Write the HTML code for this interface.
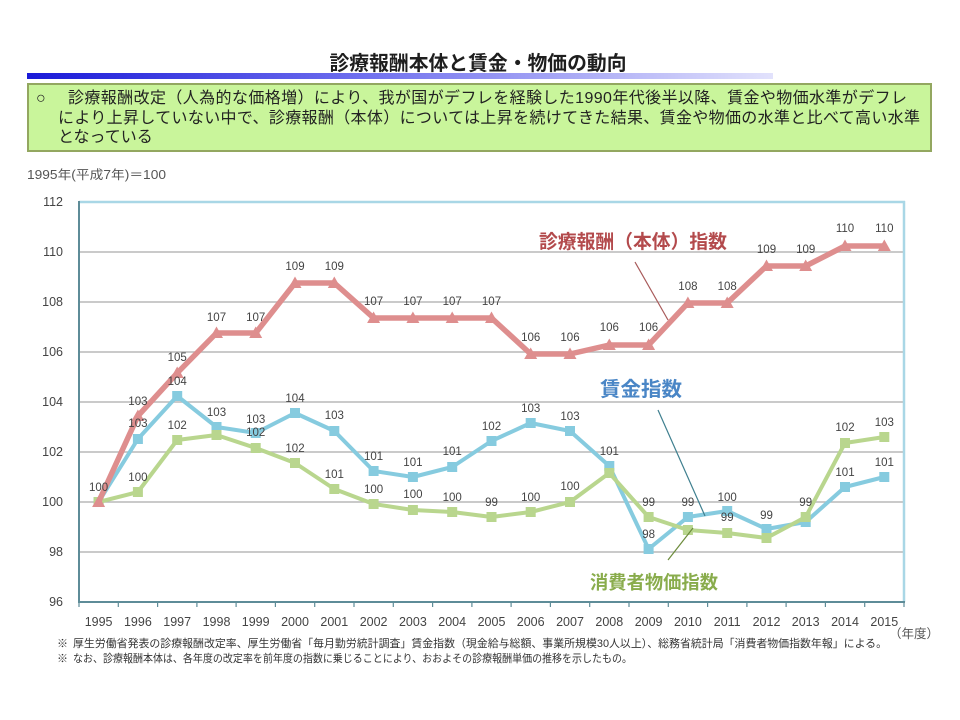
<!DOCTYPE html>
<html><head><meta charset="utf-8"><style>
html,body{margin:0;padding:0;background:#fff;}
svg{display:block;}
text{font-family:"Liberation Sans","Noto Sans CJK JP",sans-serif;}
</style></head><body>
<svg width="960" height="720" viewBox="0 0 960 720" xmlns="http://www.w3.org/2000/svg">
<defs>
<linearGradient id="bar" x1="0" x2="1" y1="0" y2="0">
<stop offset="0" stop-color="#1a1ad8"/>
<stop offset="0.45" stop-color="#6f6fee"/>
<stop offset="1" stop-color="#e2e2fc"/>
</linearGradient>
<path id="tri" d="M-6.5,5 L6.5,5 L0,-6.5 Z" fill="#de8e8e"/>
<rect id="bsq" x="-5" y="-5" width="10" height="10" fill="#86cbdf"/>
<rect id="gsq" x="-5" y="-5" width="10" height="10" fill="#b9d68e"/>
</defs>
<rect width="960" height="720" fill="#fff"/>

<!-- Title -->
<text x="478" y="70" text-anchor="middle" font-size="20" font-weight="bold" fill="#1e1e1e" textLength="297" lengthAdjust="spacingAndGlyphs">診療報酬本体と賃金・物価の動向</text>
<rect x="27" y="73" width="746" height="6" fill="url(#bar)"/>

<!-- Green box -->
<rect x="28" y="84" width="903" height="67" fill="#c9f59b" stroke="#93a760" stroke-width="2"/>
<text x="36" y="103" font-size="16" fill="#222">○</text>
<text x="68" y="103" font-size="16" fill="#222" textLength="839" lengthAdjust="spacing">診療報酬改定（人為的な価格増）により、我が国がデフレを経験した1990年代後半以降、賃金や物価水準がデフレ</text>
<text x="58" y="123" font-size="16" fill="#222" textLength="862" lengthAdjust="spacing">により上昇していない中で、診療報酬（本体）については上昇を続けてきた結果、賃金や物価の水準と比べて高い水準</text>
<text x="58" y="142" font-size="16" fill="#222">となっている</text>

<text x="27" y="179" font-size="12.5" fill="#555" textLength="139" lengthAdjust="spacingAndGlyphs">1995年(平成7年)＝100</text>

<!-- gridlines -->
<g stroke="#b8b8b8" stroke-width="1.5">
<line x1="79" y1="252" x2="904" y2="252"/>
<line x1="79" y1="302" x2="904" y2="302"/>
<line x1="79" y1="352" x2="904" y2="352"/>
<line x1="79" y1="402" x2="904" y2="402"/>
<line x1="79" y1="452" x2="904" y2="452"/>
<line x1="79" y1="502" x2="904" y2="502"/>
<line x1="79" y1="552" x2="904" y2="552"/>
</g>
<!-- frame -->
<line x1="79" y1="202" x2="905" y2="202" stroke="#a9d7e6" stroke-width="2.5"/>
<line x1="904" y1="201" x2="904" y2="602" stroke="#a9d7e6" stroke-width="2.5"/>
<line x1="79" y1="201" x2="79" y2="603" stroke="#5e8c98" stroke-width="2"/>
<line x1="78" y1="602" x2="905" y2="602" stroke="#5e8c98" stroke-width="2"/>
<g stroke="#5e8c98" stroke-width="1.2">
<line x1="79" y1="602" x2="79" y2="607"/><line x1="118.3" y1="602" x2="118.3" y2="607"/><line x1="157.6" y1="602" x2="157.6" y2="607"/><line x1="196.9" y1="602" x2="196.9" y2="607"/><line x1="236.1" y1="602" x2="236.1" y2="607"/><line x1="275.4" y1="602" x2="275.4" y2="607"/><line x1="314.7" y1="602" x2="314.7" y2="607"/><line x1="354" y1="602" x2="354" y2="607"/><line x1="393.3" y1="602" x2="393.3" y2="607"/><line x1="432.6" y1="602" x2="432.6" y2="607"/><line x1="471.9" y1="602" x2="471.9" y2="607"/><line x1="511.1" y1="602" x2="511.1" y2="607"/><line x1="550.4" y1="602" x2="550.4" y2="607"/><line x1="589.7" y1="602" x2="589.7" y2="607"/><line x1="629" y1="602" x2="629" y2="607"/><line x1="668.3" y1="602" x2="668.3" y2="607"/><line x1="707.6" y1="602" x2="707.6" y2="607"/><line x1="746.9" y1="602" x2="746.9" y2="607"/><line x1="786.1" y1="602" x2="786.1" y2="607"/><line x1="825.4" y1="602" x2="825.4" y2="607"/><line x1="864.7" y1="602" x2="864.7" y2="607"/><line x1="904" y1="602" x2="904" y2="607"/>
</g>

<!-- y labels -->
<g font-size="12.5" fill="#444" text-anchor="end">
<text x="63" y="206">112</text>
<text x="63" y="256">110</text>
<text x="63" y="306">108</text>
<text x="63" y="356">106</text>
<text x="63" y="406">104</text>
<text x="63" y="456">102</text>
<text x="63" y="506">100</text>
<text x="63" y="556">98</text>
<text x="63" y="606">96</text>
</g>
<!-- x labels -->
<g font-size="12.5" fill="#444" text-anchor="middle">
<text x="98.6" y="626">1995</text><text x="137.9" y="626">1996</text><text x="177.2" y="626">1997</text><text x="216.5" y="626">1998</text><text x="255.7" y="626">1999</text><text x="295" y="626">2000</text><text x="334.3" y="626">2001</text><text x="373.6" y="626">2002</text><text x="412.9" y="626">2003</text><text x="452.2" y="626">2004</text><text x="491.5" y="626">2005</text><text x="530.7" y="626">2006</text><text x="570" y="626">2007</text><text x="609.3" y="626">2008</text><text x="648.6" y="626">2009</text><text x="687.9" y="626">2010</text><text x="727.2" y="626">2011</text><text x="766.5" y="626">2012</text><text x="805.7" y="626">2013</text><text x="845" y="626">2014</text><text x="884.3" y="626">2015</text>
</g>
<text x="889" y="638" font-size="12.5" fill="#555">（年度）</text>

<!-- Blue series -->
<polyline fill="none" stroke="#86cbdf" stroke-width="4" stroke-linejoin="round" points="98.6,502 137.9,439 177.2,396 216.5,427 255.7,433 295,413 334.3,431 373.6,471 412.9,477 452.2,467 491.5,441 530.7,423 570,431 609.3,466 648.6,549 687.9,517 727.2,511 766.5,529 805.7,522 845,487 884.3,477"/>
<g>
<use href="#bsq" x="98.6" y="502"/><use href="#bsq" x="137.9" y="439"/><use href="#bsq" x="177.2" y="396"/><use href="#bsq" x="216.5" y="427"/><use href="#bsq" x="255.7" y="433"/><use href="#bsq" x="295" y="413"/><use href="#bsq" x="334.3" y="431"/><use href="#bsq" x="373.6" y="471"/><use href="#bsq" x="412.9" y="477"/><use href="#bsq" x="452.2" y="467"/><use href="#bsq" x="491.5" y="441"/><use href="#bsq" x="530.7" y="423"/><use href="#bsq" x="570" y="431"/><use href="#bsq" x="609.3" y="466"/><use href="#bsq" x="648.6" y="549"/><use href="#bsq" x="687.9" y="517"/><use href="#bsq" x="727.2" y="511"/><use href="#bsq" x="766.5" y="529"/><use href="#bsq" x="805.7" y="522"/><use href="#bsq" x="845" y="487"/><use href="#bsq" x="884.3" y="477"/>
</g>

<!-- Green series -->
<polyline fill="none" stroke="#b9d68e" stroke-width="4" stroke-linejoin="round" points="98.6,502 137.9,492 177.2,440 216.5,435 255.7,448 295,463 334.3,489 373.6,504 412.9,510 452.2,512 491.5,517 530.7,512 570,502 609.3,473 648.6,517 687.9,530 727.2,533 766.5,538 805.7,517 845,443 884.3,437"/>
<g>
<use href="#gsq" x="98.6" y="502"/><use href="#gsq" x="137.9" y="492"/><use href="#gsq" x="177.2" y="440"/><use href="#gsq" x="216.5" y="435"/><use href="#gsq" x="255.7" y="448"/><use href="#gsq" x="295" y="463"/><use href="#gsq" x="334.3" y="489"/><use href="#gsq" x="373.6" y="504"/><use href="#gsq" x="412.9" y="510"/><use href="#gsq" x="452.2" y="512"/><use href="#gsq" x="491.5" y="517"/><use href="#gsq" x="530.7" y="512"/><use href="#gsq" x="570" y="502"/><use href="#gsq" x="609.3" y="473"/><use href="#gsq" x="648.6" y="517"/><use href="#gsq" x="687.9" y="530"/><use href="#gsq" x="727.2" y="533"/><use href="#gsq" x="766.5" y="538"/><use href="#gsq" x="805.7" y="517"/><use href="#gsq" x="845" y="443"/><use href="#gsq" x="884.3" y="437"/>
</g>

<!-- Red series -->
<polyline fill="none" stroke="#de8e8e" stroke-width="5.5" stroke-linejoin="round" points="98.6,502 137.9,416 177.2,373 216.5,333 255.7,333 295,283 334.3,283 373.6,318 412.9,318 452.2,318 491.5,318 530.7,354 570,354 609.3,345 648.6,345 687.9,303 727.2,303 766.5,266 805.7,266 845,246 884.3,246"/>
<g>
<use href="#tri" x="98.6" y="502"/><use href="#tri" x="137.9" y="416"/><use href="#tri" x="177.2" y="373"/><use href="#tri" x="216.5" y="333"/><use href="#tri" x="255.7" y="333"/><use href="#tri" x="295" y="283"/><use href="#tri" x="334.3" y="283"/><use href="#tri" x="373.6" y="318"/><use href="#tri" x="412.9" y="318"/><use href="#tri" x="452.2" y="318"/><use href="#tri" x="491.5" y="318"/><use href="#tri" x="530.7" y="354"/><use href="#tri" x="570" y="354"/><use href="#tri" x="609.3" y="345"/><use href="#tri" x="648.6" y="345"/><use href="#tri" x="687.9" y="303"/><use href="#tri" x="727.2" y="303"/><use href="#tri" x="766.5" y="266"/><use href="#tri" x="805.7" y="266"/><use href="#tri" x="845" y="246"/><use href="#tri" x="884.3" y="246"/>
</g>

<!-- Data labels -->
<g font-size="11.5" fill="#444" text-anchor="middle">
<!-- red -->
<text x="98.6" y="491">100</text><text x="137.9" y="405">103</text><text x="177.2" y="361">105</text><text x="216.5" y="321">107</text><text x="255.7" y="321">107</text><text x="295" y="270">109</text><text x="334.3" y="270">109</text><text x="373.6" y="305">107</text><text x="412.9" y="305">107</text><text x="452.2" y="305">107</text><text x="491.5" y="305">107</text><text x="530.7" y="341">106</text><text x="570" y="341">106</text><text x="609.3" y="331">106</text><text x="648.6" y="331">106</text><text x="687.9" y="290">108</text><text x="727.2" y="290">108</text><text x="766.5" y="253">109</text><text x="805.7" y="253">109</text><text x="845" y="232">110</text><text x="884.3" y="232">110</text>
<!-- blue -->
<text x="137.9" y="427">103</text><text x="177.2" y="385">104</text><text x="216.5" y="416">103</text><text x="255.7" y="423">103</text><text x="295" y="402">104</text><text x="334.3" y="419">103</text><text x="373.6" y="460">101</text><text x="412.9" y="466">101</text><text x="452.2" y="455">101</text><text x="491.5" y="430">102</text><text x="530.7" y="412">103</text><text x="570" y="420">103</text><text x="609.3" y="455">101</text><text x="648.6" y="538">98</text><text x="687.9" y="506">99</text><text x="727.2" y="501">100</text><text x="766.5" y="519">99</text><text x="845" y="476">101</text><text x="884.3" y="466">101</text>
<!-- green -->
<text x="137.9" y="481">100</text><text x="177.2" y="429">102</text><text x="255.7" y="436">102</text><text x="295" y="452">102</text><text x="334.3" y="478">101</text><text x="373.6" y="493">100</text><text x="412.9" y="498">100</text><text x="452.2" y="501">100</text><text x="491.5" y="506">99</text><text x="530.7" y="501">100</text><text x="570" y="490">100</text><text x="648.6" y="506">99</text><text x="727.2" y="521">99</text><text x="805.7" y="506">99</text><text x="845" y="431">102</text><text x="884.3" y="426">103</text>
</g>

<!-- annotations -->
<line x1="635" y1="262" x2="668" y2="320" stroke="#a85a5a" stroke-width="1.2"/>
<line x1="658" y1="410" x2="705" y2="516" stroke="#3f7f8f" stroke-width="1.2"/>
<line x1="668" y1="560" x2="693" y2="528" stroke="#6d8c3c" stroke-width="1.2"/>
<text x="539" y="248" font-size="19" font-weight="bold" fill="#b34a4c" textLength="188" lengthAdjust="spacingAndGlyphs">診療報酬（本体）指数</text>
<text x="600" y="396" font-size="20" font-weight="bold" fill="#4a86c6" textLength="82" lengthAdjust="spacingAndGlyphs">賃金指数</text>
<text x="590" y="589" font-size="18.5" font-weight="bold" fill="#89ac4c" textLength="128" lengthAdjust="spacingAndGlyphs">消費者物価指数</text>

<!-- footnotes -->
<g font-size="11" fill="#333">
<text x="57" y="647">※</text>
<text x="73" y="647" textLength="814" lengthAdjust="spacingAndGlyphs">厚生労働省発表の診療報酬改定率、厚生労働省「毎月勤労統計調査」賃金指数（現金給与総額、事業所規模30人以上）、総務省統計局「消費者物価指数年報」による。</text>
<text x="57" y="662">※</text>
<text x="73" y="662" textLength="559" lengthAdjust="spacingAndGlyphs">なお、診療報酬本体は、各年度の改定率を前年度の指数に乗じることにより、おおよその診療報酬単価の推移を示したもの。</text>
</g>
</svg>
</body></html>
